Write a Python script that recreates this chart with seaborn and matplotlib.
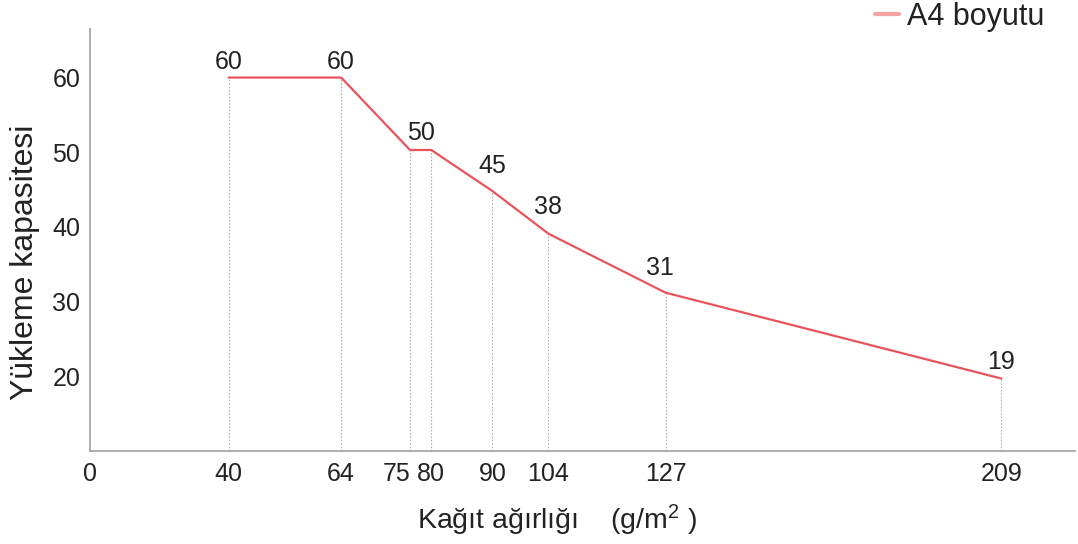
import numpy as np
import seaborn as sns
import matplotlib.pyplot as plt
from matplotlib.scale import FuncScale

# Data
weights = [40, 64, 75, 80, 90, 104, 127, 209]
capacity = [60, 60, 50.3, 50.3, 44.8, 39.1, 31.2, 19.7]
x_ticks = [0, 40, 64, 75, 80, 90, 104, 127, 209]
y_ticks = [20, 30, 40, 50, 60]
label_x = [40, 64, 77.5, 90, 104, 126, 209]
label_y = [60, 60, 50.3, 44.8, 39.1, 31.2, 19.7]
label_text = ['60', '60', '50', '45', '38', '31', '19']

# The original x axis is schematic (not linear): map tick values to screen spacing
scale_vals = [0, 40, 64, 75, 80, 90, 104, 127, 209, 300]
scale_pos = [0, 139, 251.7, 320.7, 342, 403.3, 459.3, 576.7, 913.3, 1286]

sns.set_theme(style='white')
plt.rcParams['font.family'] = ['Liberation Sans', 'DejaVu Sans']
plt.rcParams['mathtext.fontset'] = 'custom'
plt.rcParams['mathtext.rm'] = 'Liberation Sans'
plt.rcParams['mathtext.it'] = 'Liberation Sans'

fig = plt.figure(figsize=(10.78, 5.44), dpi=100)
ax = fig.add_axes([90 / 1078, 93 / 544, 985 / 1078, 422 / 544])

ax.set_xscale(FuncScale(ax.xaxis, (lambda v: np.interp(v, scale_vals, scale_pos),
                                   lambda p: np.interp(p, scale_pos, scale_vals))))

line_color = '#e8545a'
sns.lineplot(x=weights, y=capacity, color=line_color, linewidth=1.6,
             label='A4 boyutu', ax=ax)

# dotted drop lines
ax.vlines(weights, 10, capacity, colors='#b0b0b0', linestyles=(0, (1.5, 1.5)),
          linewidth=0.8, zorder=1)

txt = '#222222'
offsets = [11, 11, 12, 18, 19, 18, 12]
for x, y, t, off in zip(label_x, label_y, label_text, offsets):
    ax.annotate(t, (x, y), xytext=(0, off), textcoords='offset points',
                ha='center', va='center', fontsize=18, color=txt)

ax.set_xlim(0, 227)
ax.set_ylim(10, 66.5)
ax.set_xticks(x_ticks)
ax.set_yticks(y_ticks)
ax.tick_params(axis='x', length=0, pad=8, labelsize=18, labelcolor=txt)
ax.tick_params(axis='y', direction='in', length=6.5, width=0.8, color='#999999',
               pad=7, labelsize=18, labelcolor=txt)
# 75 and 80 sit close together, as in the original
ax.get_xticklabels()[3].set_horizontalalignment('right')

for s in ['top', 'right']:
    ax.spines[s].set_visible(False)
for s in ['left', 'bottom']:
    ax.spines[s].set_color('#a0a0a0')
    ax.spines[s].set_linewidth(1.2)

ax.set_xlabel('Kağıt ağırlığı    (g/m$^2$ )', fontsize=20.5, color=txt, va='center')
ax.xaxis.set_label_coords(0.474, -0.1635)
ax.set_ylabel('Yükleme kapasitesi', fontsize=23, color=txt, va='center')
ax.yaxis.set_label_coords(-0.066, 0.448)

leg = ax.legend(loc='center right', bbox_to_anchor=(1044 / 1078, 1 - 17 / 544),
                bbox_transform=fig.transFigure, frameon=False, fontsize=22,
                handlelength=0.8, handletextpad=0.25, borderaxespad=0, borderpad=0)
for h in leg.get_lines():
    h.set_color('#f4a4a4')
    h.set_linewidth(3)
for t in leg.get_texts():
    t.set_color(txt)

fig.savefig('out.png', dpi=100)
